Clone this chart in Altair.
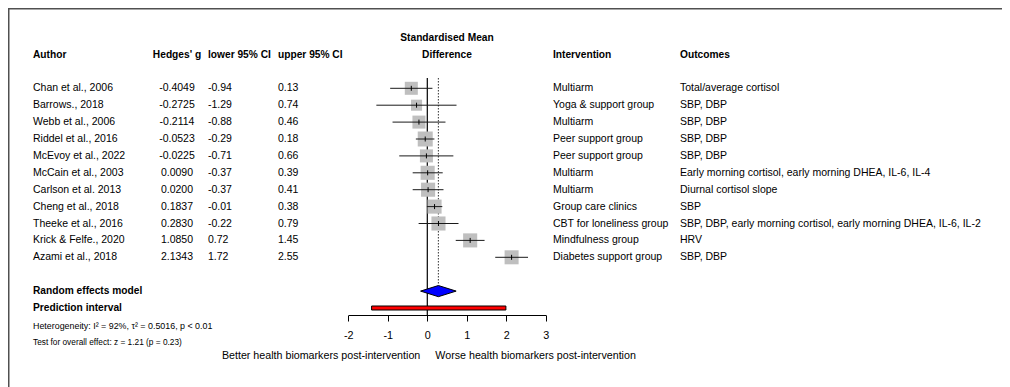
import altair as alt
import pandas as pd

# ---------------- data ----------------
authors = ["Chan et al., 2006", "Barrows., 2018", "Webb et al., 2006", "Riddel et al., 2016",
           "McEvoy et al., 2022", "McCain et al., 2003", "Carlson et al. 2013", "Cheng et al., 2018",
           "Theeke et al., 2016", "Krick & Felfe., 2020", "Azami et al., 2018"]
hedges_g = [-0.4049, -0.2725, -0.2114, -0.0523, -0.0225, 0.0090, 0.0200, 0.1837, 0.2830, 1.0850, 2.1343]
ci_lower = [-0.94, -1.29, -0.88, -0.29, -0.71, -0.37, -0.37, -0.01, -0.22, 0.72, 1.72]
ci_upper = [0.13, 0.74, 0.46, 0.18, 0.66, 0.39, 0.41, 0.38, 0.79, 1.45, 2.55]
weights = [8.3, 6.0, 8.3, 11.0, 8.3, 9.7, 9.7, 9.7, 9.7, 9.7, 9.6]
interventions = ["Multiarm", "Yoga & support group", "Multiarm", "Peer support group", "Peer support group",
                 "Multiarm", "Multiarm", "Group care clinics", "CBT for loneliness group",
                 "Mindfulness group", "Diabetes support group"]
outcomes = ["Total/average cortisol", "SBP, DBP", "SBP, DBP", "SBP, DBP", "SBP, DBP",
            "Early morning cortisol, early morning DHEA, IL-6, IL-4", "Diurnal cortisol slope", "SBP",
            "SBP, DBP, early morning cortisol, early morning DHEA, IL-6, IL-2", "HRV", "SBP, DBP"]

pooled_est = 0.28
pooled_lower = -0.17
pooled_upper = 0.73
pred_lower = -1.41
pred_upper = 1.99
null_effect = 0.0
axis_ticks = [-2, -1, 0, 1, 2, 3]

het_text = "Heterogeneity: I² = 92%, τ² = 0.5016, p < 0.01"
test_text = "Test for overall effect: z = 1.21 (p = 0.23)"

# ---------------- layout ----------------
FONT = "Liberation Sans"
FS = 10.5
FSB = 10.2
W, H = 994, 307
XS = alt.Scale(domain=[-2, 3], range=[340.3, 537.8], nice=False, zero=False, padding=0)
YS = alt.Scale(domain=[0, 10], range=[80.3, 249.3], nice=False, zero=False, padding=0)
AX = alt.Axis(values=axis_ticks, title=None, grid=False, domainColor="black", tickColor="black",
              tickSize=6, tickWidth=1, domainWidth=1, labelFontSize=10.8, labelFont=FONT,
              labelColor="black", labelPadding=8, labelExpr="'' + datum.value", labelFlush=False)

studies = pd.DataFrame({
    "row": list(range(len(authors))),
    "author": authors,
    "g": hedges_g,
    "lo": ci_lower,
    "hi": ci_upper,
    "w": weights,
    "g_lab": [f"{v:.4f}" for v in hedges_g],
    "lo_lab": [f"{v:.2f}" for v in ci_lower],
    "hi_lab": [f"{v:.2f}" for v in ci_upper],
    "intervention": interventions,
    "outcome": outcomes,
})

ROW_RE, ROW_PI, ROW_HET, ROW_TEST, ROW_BOTTOM = 12, 13, 14.05, 15.1, 15.85
ROW_HEAD, ROW_TITLE = -2, -3


def Y(field="row"):
    return alt.Y(f"{field}:Q", scale=YS, axis=None)


def label(text, x, row, align="left", bold=False, size=None):
    if size is None:
        size = FSB if bold else FS
    return alt.Chart(pd.DataFrame({"row": [row]})).mark_text(
        text=text, align=align, baseline="middle", font=FONT, fontSize=size,
        fontWeight="bold" if bold else "normal", color="black"
    ).encode(x=alt.value(x), y=Y())


def column(field, x, align="left"):
    return alt.Chart(studies).mark_text(
        align=align, baseline="middle", font=FONT, fontSize=FS, color="black"
    ).encode(x=alt.value(x), y=Y(), text=f"{field}:N")


layers = []

# frame
frame = pd.DataFrame({"k": [0]})
layers.append(alt.Chart(frame).mark_rule(color="#505050", strokeWidth=2).encode(
    x=alt.value(0), x2=alt.value(W), y=alt.value(0.5)))
layers.append(alt.Chart(frame).mark_rule(color="#505050", strokeWidth=2).encode(
    x=alt.value(0.5), y=alt.value(0), y2=alt.value(379)))

# headers
layers += [
    label("Standardised Mean", 439, ROW_TITLE, "center", True),
    label("Difference", 439, ROW_HEAD, "center", True),
    label("Author", 25, ROW_HEAD, "left", True),
    label("Hedges' g", 169, ROW_HEAD, "center", True),
    label("lower 95% CI", 200, ROW_HEAD, "left", True),
    label("upper 95% CI", 270, ROW_HEAD, "left", True),
    label("Intervention", 545, ROW_HEAD, "left", True),
    label("Outcomes", 672, ROW_HEAD, "left", True),
]

# study columns
layers += [
    column("author", 25),
    column("g_lab", 169, "center"),
    column("lo_lab", 200),
    column("hi_lab", 270),
    column("intervention", 545),
    column("outcome", 672),
]

# summary labels
layers += [
    label("Random effects model", 25, ROW_RE, "left", True),
    label("Prediction interval", 25, ROW_PI, "left", True),
    label(het_text, 25, ROW_HET, "left", False, 8.9),
    label(test_text, 25, ROW_TEST, "left", False, 8.3),
]

# reference lines
ref = pd.DataFrame({"x": [null_effect]})
layers.append(alt.Chart(ref).mark_rule(color="black", strokeWidth=1.2).encode(
    x=alt.X("x:Q", scale=XS, axis=AX), y=alt.value(70), y2=alt.value(H)))

pooled = pd.DataFrame({"est": [pooled_est], "lo": [pooled_lower], "hi": [pooled_upper],
                       "plo": [pred_lower], "phi": [pred_upper], "row": [ROW_PI]})
layers.append(alt.Chart(pooled).mark_rule(color="#333333", strokeWidth=1, strokeDash=[1.5, 1.5]).encode(
    x=alt.X("est:Q", scale=XS, axis=AX), y=alt.value(70), y2=alt.value(277)))

# squares, CI lines, estimate ticks
layers.append(alt.Chart(studies).mark_square(color="#BFBFBF", opacity=1).encode(
    x=alt.X("g:Q", scale=XS, axis=AX), y=Y(),
    size=alt.Size("w:Q", scale=alt.Scale(domain=[0, 11], range=[0, 225], zero=True), legend=None)))
layers.append(alt.Chart(studies).mark_rule(color="#1a1a1a", strokeWidth=1).encode(
    x=alt.X("lo:Q", scale=XS, axis=AX), x2="hi:Q", y=Y()))
layers.append(alt.Chart(studies).mark_point(shape="M0,-1L0,1", size=25, filled=False, color="black",
                                             strokeWidth=1, opacity=1).encode(
    x=alt.X("g:Q", scale=XS, axis=AX), y=Y()))

# diamond (random effects)
half = 0.33
diamond = pd.DataFrame({
    "x": [pooled_lower, pooled_est, pooled_upper],
    "y1": [ROW_RE, ROW_RE - half, ROW_RE],
    "y2": [ROW_RE, ROW_RE + half, ROW_RE],
})
layers.append(alt.Chart(diamond).mark_area(color="#0000FF", stroke="black", strokeWidth=1,
                                           opacity=1, orient="vertical").encode(
    x=alt.X("x:Q", scale=XS, axis=AX), y=alt.Y("y1:Q", scale=YS, axis=None), y2="y2:Q"))

# prediction interval bar
layers.append(alt.Chart(pooled).mark_bar(size=4, color="red", stroke="black", strokeWidth=1).encode(
    x=alt.X("plo:Q", scale=XS, axis=AX), x2="phi:Q", y=Y()))

# bottom direction labels
dirs = pd.DataFrame({"x": [null_effect], "row": [ROW_BOTTOM]})
layers.append(alt.Chart(dirs).mark_text(text="Better health biomarkers post-intervention", align="right",
                                        baseline="middle", font=FONT, fontSize=10.7, color="black", dx=-7).encode(
    x=alt.X("x:Q", scale=XS, axis=AX), y=Y()))
layers.append(alt.Chart(dirs).mark_text(text="Worse health biomarkers post-intervention", align="left",
                                        baseline="middle", font=FONT, fontSize=10.7, color="black", dx=8).encode(
    x=alt.X("x:Q", scale=XS, axis=AX), y=Y()))

chart = alt.layer(*layers).properties(
    width=W, height=H, autosize="none", background="white",
    padding={"left": 0, "right": 0, "top": 0, "bottom": 72},
).configure_view(stroke=None)

chart.save("out.html", embed_options={"renderer": "svg", "actions": False})
